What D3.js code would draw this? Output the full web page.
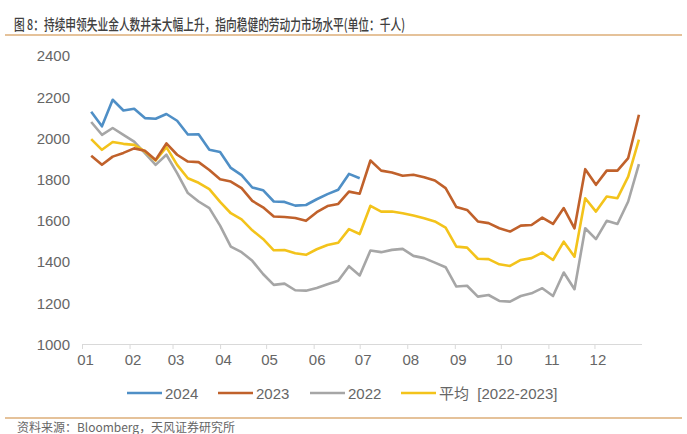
<!DOCTYPE html>
<html><head><meta charset="utf-8">
<script src="https://cdn.jsdelivr.net/npm/d3@7/dist/d3.min.js"></script>
<style>
html,body{margin:0;padding:0;background:#fff;}
svg{display:block;}
</style></head>
<body>
<svg id="chart" width="687" height="434"></svg>
<script>
const monthLabels = ["01","02","03","04","05","06","07","08","09","10","11","12"];
const yTicks = [1000,1200,1400,1600,1800,2000,2200,2400];
const seriesNames = ["2024","2023","2022","平均  [2022-2023]"];
const v2024 = [2128,2057,2186,2134,2142,2097,2094,2117,2084,2017,2018,1943,1932,1855,1820,1760,1747,1692,1690,1672,1675,1703,1728,1749,1826,1805];
const v2023 = [1914,1870,1910,1928,1950,1938,1894,1974,1919,1886,1883,1845,1800,1789,1757,1695,1664,1619,1617,1612,1598,1640,1670,1680,1740,1730,1891,1842,1833,1817,1822,1810,1794,1757,1665,1651,1595,1587,1562,1546,1575,1578,1614,1583,1660,1562,1849,1773,1842,1842,1903,2113];
const v2022 = [2078,2016,2049,2016,1983,1927,1870,1919,1830,1733,1692,1660,1575,1473,1446,1404,1340,1287,1293,1261,1259,1272,1290,1307,1378,1333,1454,1446,1457,1462,1428,1417,1395,1373,1279,1283,1230,1238,1209,1206,1233,1246,1271,1233,1347,1266,1562,1509,1598,1583,1692,1874];
const vAvg = [1995,1943,1981,1972,1967,1935,1891,1956,1870,1805,1783,1752,1690,1635,1605,1552,1510,1455,1456,1441,1433,1460,1481,1492,1558,1534,1671,1643,1643,1635,1624,1611,1595,1565,1473,1468,1414,1412,1387,1379,1408,1417,1444,1408,1497,1424,1708,1643,1716,1708,1813,1992];
const colors = ["#4F8FC6","#C0612B","#A6A6A6","#F3C31B"];

const svg = d3.select("#chart");
const x = d3.scaleTime().domain([new Date(2023,0,1), new Date(2024,0,1)]).range([82, 642]);
const y = d3.scaleLinear().domain([1000, 2400]).range([344, 55.7]);
const weekDate = i => new Date(2023, 0, 7 + 7*i);

// title
svg.append("text").attr("x",14).attr("y",30)
  .attr("font-family","'Noto Sans CJK SC', sans-serif").attr("font-size",15).attr("font-weight",500)
  .attr("fill","#404040").attr("textLength",391).attr("lengthAdjust","spacingAndGlyphs")
  .text("图 8：持续申领失业金人数并未大幅上升，指向稳健的劳动力市场水平(单位：千人)");
svg.append("line").attr("x1",5).attr("x2",682).attr("y1",35).attr("y2",35)
  .attr("stroke","#DDAE79").attr("stroke-width",1.3);

// y axis labels
const yAxis = d3.axisLeft(y).tickValues(yTicks).tickSize(0).tickPadding(0).tickFormat(d3.format("d"));
const gy = svg.append("g").attr("transform","translate(70,0)").call(yAxis);
gy.select(".domain").remove();
gy.selectAll("text").attr("font-family","'Liberation Sans', Arial, sans-serif").attr("font-size",15).attr("fill","#666").attr("dy","0.35em");

// x axis
const monthStarts = d3.range(12).map(m => new Date(2023, m, 1));
const xAxis = d3.axisBottom(x).tickValues(monthStarts).tickSize(5).tickPadding(5)
  .tickFormat((d,i) => monthLabels[i]);
const gx = svg.append("g").attr("transform","translate(0,344)").call(xAxis);
gx.select(".domain").attr("stroke","#D9D9D9").attr("d","M82,0.5H642");
gx.selectAll(".tick line").attr("stroke","#D9D9D9");
gx.selectAll("text").attr("font-family","'Liberation Sans', Arial, sans-serif").attr("font-size",15).attr("fill","#666").attr("dx",3);

// lines
const line = d3.line().x((d,i) => x(weekDate(i))).y(d => y(d));
const order = [[v2022,2],[vAvg,3],[v2023,1],[v2024,0]];
order.forEach(([vals,ci]) => {
  svg.append("path").datum(vals).attr("d",line).attr("fill","none")
    .attr("stroke",colors[ci]).attr("stroke-width",2.6).attr("stroke-linejoin","round");
});

// legend
const legendX = [127,218,310,401];
const lg = svg.append("g");
seriesNames.forEach((n,i) => {
  lg.append("line").attr("x1",legendX[i]).attr("x2",legendX[i]+35).attr("y1",393).attr("y2",393)
    .attr("stroke",colors[i]).attr("stroke-width",2.6);
  lg.append("text").attr("x",legendX[i]+38).attr("y",398.5)
    .attr("font-family","'Liberation Sans','Noto Sans CJK SC', sans-serif").attr("font-size",15)
    .attr("fill","#666").attr("xml:space","preserve").style("white-space","pre").text(n);
});

// bottom
svg.append("line").attr("x1",5).attr("x2",682).attr("y1",418).attr("y2",418)
  .attr("stroke","#DDAE79").attr("stroke-width",1.3);
svg.append("text").attr("x",17).attr("y",432)
  .attr("font-family","'Noto Sans CJK SC', sans-serif").attr("font-size",12).attr("fill","#666")
  .attr("textLength",218).attr("lengthAdjust","spacingAndGlyphs")
  .text("资料来源：Bloomberg，天风证券研究所");
</script>
</body></html>
